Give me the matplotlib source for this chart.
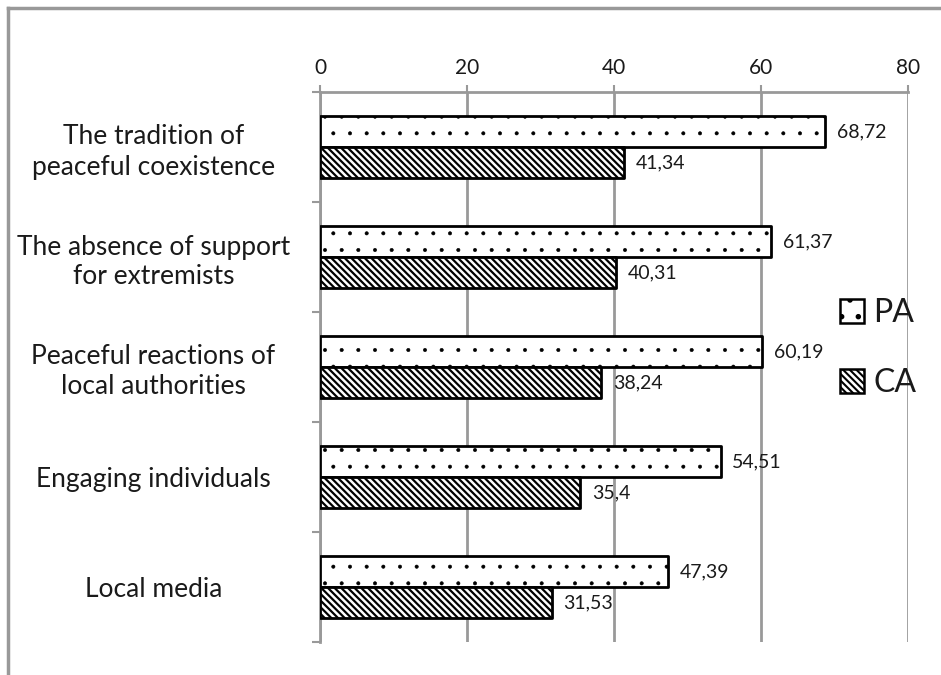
import matplotlib
matplotlib.use("Agg")
import matplotlib.pyplot as plt
import numpy as np
from matplotlib.lines import Line2D
from matplotlib.patches import Patch

categories = ["The tradition of\npeaceful coexistence",
              "The absence of support\nfor extremists",
              "Peaceful reactions of\nlocal authorities",
              "Engaging individuals",
              "Local media"]
pa_values = [68.72, 61.37, 60.19, 54.51, 47.39]
ca_values = [41.34, 40.31, 38.24, 35.4, 31.53]
pa_labels = ["68,72", "61,37", "60,19", "54,51", "47,39"]
ca_labels = ["41,34", "40,31", "38,24", "35,4", "31,53"]
x_ticks = [0, 20, 40, 60, 80]

BS = chr(92)
DOT_HATCH = '.'
DIAG_HATCH = BS * 5

plt.rcParams['font.family'] = ['Lato', 'DejaVu Sans']
TEXT = '#1a1a1a'


def set_hatch_lw(patches, lw):
    for p in patches:
        if hasattr(p, 'set_hatch_linewidth'):
            p.set_hatch_linewidth(lw)
        else:
            p._hatch_linewidth = lw


fig = plt.figure(figsize=(9.41, 6.75), dpi=100)
ax = fig.add_axes([320/941, 1-642/675, (908-320)/941, (642-92)/675])

y = np.arange(len(categories))
h = 0.28
plt.rcParams['hatch.linewidth'] = 0.4
b1 = ax.barh(y - h/2, pa_values, height=h, color='white', edgecolor='black',
             linewidth=2.0, hatch=DOT_HATCH, zorder=3)
plt.rcParams['hatch.linewidth'] = 1.6
b2 = ax.barh(y + h/2, ca_values, height=h, color='white', edgecolor='black',
             linewidth=2.0, hatch=DIAG_HATCH, zorder=3)
set_hatch_lw(b1, 0.4)
set_hatch_lw(b2, 1.6)
for p in list(b1) + list(b2):
    p.set_joinstyle('round')

for i in range(len(categories)):
    ax.text(pa_values[i] + 1.6, y[i] - h/2, pa_labels[i], va='center', ha='left',
            fontsize=14, color=TEXT, zorder=4)
    ax.text(ca_values[i] + 1.6, y[i] + h/2, ca_labels[i], va='center', ha='left',
            fontsize=14, color=TEXT, zorder=4)

ax.set_xlim(0, 80)
ax.set_ylim(len(categories) - 0.5, -0.5)
ax.xaxis.tick_top()
ax.set_xticks(x_ticks)
ax.set_xticklabels([str(t) for t in x_ticks], fontsize=15, color=TEXT)
ax.tick_params(axis='x', length=5, width=1.5, color='#999999', pad=5)
ax.grid(axis='x', color='#999999', linewidth=2, zorder=0)

ax.set_yticks(y)
ax.set_yticklabels(categories, fontsize=19, color=TEXT, ha='center',
                   multialignment='center', linespacing=1.25)
ax.tick_params(axis='y', which='major', length=0, pad=120)
ax.set_yticks(np.arange(len(categories) + 1) - 0.5, minor=True)
ax.tick_params(axis='y', which='minor', length=6, width=1.5, color='#999999')

for s in ['bottom', 'right']:
    ax.spines[s].set_visible(False)
for s in ['top', 'left']:
    ax.spines[s].set_color('#999999')
    ax.spines[s].set_linewidth(2)

plt.rcParams['hatch.linewidth'] = 1.5
h1 = Patch(facecolor='white', edgecolor='black', hatch=DOT_HATCH, linewidth=1.8)
h2 = Patch(facecolor='white', edgecolor='black', hatch=BS * 5, linewidth=1.8)
set_hatch_lw([h1], 0.8)
set_hatch_lw([h2], 1.5)
fig.legend([h1, h2], ['PA', 'CA'], loc='center left', bbox_to_anchor=(840/941, 1-348/675),
           frameon=False, fontsize=23, handlelength=0.75, handleheight=0.75,
           handletextpad=0.3, labelspacing=1.25, borderaxespad=0, borderpad=0,
           labelcolor=TEXT)

# outer gray frame (cropped at right and bottom)
fig.add_artist(Line2D([8/941, 8/941], [0, 1-8/675], color='#999999', linewidth=2.5,
                      transform=fig.transFigure))
fig.add_artist(Line2D([8/941, 1], [1-8/675, 1-8/675], color='#999999', linewidth=2.5,
                      transform=fig.transFigure))

fig.savefig("out.png", dpi=100)
